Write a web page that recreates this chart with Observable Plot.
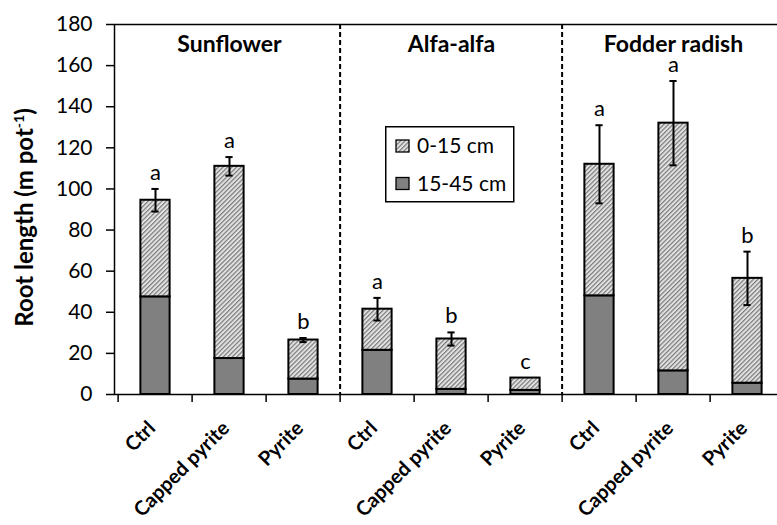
<!DOCTYPE html>
<html><head><meta charset="utf-8">
<script src="https://cdn.jsdelivr.net/npm/d3@7"></script>
<script src="https://cdn.jsdelivr.net/npm/@observablehq/plot@0.6"></script>
<style>
body{margin:0;background:#fff;font-family:Lato,sans-serif;}
#wrap{position:relative;width:777px;height:525px;overflow:hidden;background:#fff;}
#legend{position:absolute;left:385px;top:126px;}
</style></head><body><div id="wrap"></div>
<script>
// ---- data ----
const crops = ["Sunflower", "Alfa-alfa", "Fodder radish"];
const treatments = ["Ctrl", "Capped pyrite", "Pyrite"];
const totalLen = [94.5, 111, 26.5, 41.5, 27, 8, 112, 132, 56.5];   // 0-45 cm total (top of bar)
const deepLen  = [47.5, 17.5, 7.5, 21.5, 2.5, 2, 48, 11.5, 5.5];   // 15-45 cm
const errLen   = [5.5, 4.5, 1, 5.5, 3.2, 0, 19, 20.5, 13];
const letters  = ["a", "a", "b", "a", "b", "c", "a", "a", "b"];
const layers   = ["0-15 cm", "15-45 cm"];
const yTicks   = [0, 20, 40, 60, 80, 100, 120, 140, 160, 180];
const yTitle   = "Root length (m pot";
const yTitleSup = "-1";

const rows = [];
crops.forEach((c, ci) => treatments.forEach((t, ti) => {
  const i = ci * treatments.length + ti;
  rows.push({key: c + "|" + t, crop: c, treatment: t, total: totalLen[i], deep: deepLen[i], err: errLen[i], letter: letters[i]});
}));
const keys = rows.map(d => d.key);
const errRows = rows.filter(d => d.err > 0);

const W = 777, H = 525, mL = 114, mR = -10, mT = 24, mB = 131;
const step = (W - mL - mR) / keys.length;
const barW = 30, capW = 8;
const barInset = (step - barW) / 2, capInset = (step - capW) / 2;
const fills = {"0-15 cm": "url(#hatch)", "15-45 cm": "#808080"};

const chart = Plot.plot({
  width: W, height: H,
  marginLeft: mL, marginRight: mR, marginTop: mT, marginBottom: mB,
  style: {fontFamily: "Lato, sans-serif", color: "#000", background: "#fff"},
  x: {type: "band", domain: keys, padding: 0, axis: null},
  y: {domain: [0, 180]},
  marks: [
    Plot.frame({stroke: "#000", strokeWidth: 1.5}),
    Plot.ruleX(keys.filter((k, i) => i > 0 && i % treatments.length === 0), {x: d => d, dx: -step / 2, stroke: "#000", strokeWidth: 2, strokeDasharray: "5,3"}),
    Plot.ruleX(keys, {x: d => d, y1: 0, y2: 0, insetBottom: -8, dx: -step / 2, stroke: "#000", strokeWidth: 1.5}),
    Plot.barY(rows, {x: "key", y1: 0, y2: "deep", fill: fills["15-45 cm"], stroke: "#000", strokeWidth: 2, insetLeft: barInset, insetRight: barInset}),
    Plot.barY(rows, {x: "key", y1: "deep", y2: "total", fill: fills["0-15 cm"], stroke: "#000", strokeWidth: 2, insetLeft: barInset, insetRight: barInset}),
    Plot.ruleX(errRows, {x: "key", y1: d => d.total - d.err, y2: d => d.total + d.err, stroke: "#000", strokeWidth: 2}),
    Plot.tickY(errRows, {x: "key", y: d => d.total + d.err, insetLeft: capInset, insetRight: capInset, stroke: "#000", strokeWidth: 2}),
    Plot.tickY(errRows, {x: "key", y: d => d.total - d.err, insetLeft: capInset, insetRight: capInset, stroke: "#000", strokeWidth: 2}),
    Plot.text(rows, {x: "key", y: d => d.total + d.err, text: "letter", dy: -9, lineAnchor: "bottom", fontSize: 22, fill: "#000"}),
    Plot.text(crops, {x: c => c + "|" + treatments[1], frameAnchor: "top", text: d => d, dy: 27, lineAnchor: "bottom", fontWeight: "bold", fontSize: 23, fill: "#000"}),
    Plot.text(rows, {x: "key", y: () => 0, text: "treatment", rotate: () => -45, textAnchor: "end", lineAnchor: "bottom", dx: 1, dy: 35, fontWeight: "bold", fontSize: 20, fill: "#000"}),
    Plot.axisY({ticks: yTicks, tickSize: 8, tickPadding: 14, fontSize: 21, label: null, stroke: "#000", strokeWidth: 1.5, fill: "#000"}),
    Plot.text([yTitle], {frameAnchor: "left", text: d => d, rotate: -90, dx: -89, dy: 8, textAnchor: "middle", lineAnchor: "middle", fontWeight: "bold", fontSize: 24, fill: "#000"})
  ]
});

// hatch pattern
const defs = d3.select(chart).insert("defs", ":first-child");
const pat = defs.append("pattern").attr("id", "hatch").attr("patternUnits", "userSpaceOnUse")
  .attr("width", 3.2).attr("height", 3.2).attr("patternTransform", "rotate(45)");
pat.append("rect").attr("width", 3.2).attr("height", 3.2).attr("fill", "#e2e2e2");
pat.append("line").attr("x1", 0.6).attr("y1", 0).attr("x2", 0.6).attr("y2", 3.2).attr("stroke", "#7a7a7a").attr("stroke-width", 1.2);

// superscript in y title
d3.select(chart).selectAll("text").filter(function() { return this.textContent === yTitle; }).each(function() {
  const t = d3.select(this);
  t.text(null);
  t.append("tspan").text(yTitle);
  t.append("tspan").text(yTitleSup).attr("font-size", 14).attr("dy", -9);
  t.append("tspan").text(")").attr("font-size", 24).attr("dy", 9);
});

const wrap = document.getElementById("wrap");
wrap.appendChild(chart);

// legend (inside plot area)
const lg = d3.select(wrap).append("div").attr("id", "legend").append("svg")
  .attr("width", 130).attr("height", 77).style("display", "block").style("font-family", "Lato, sans-serif");
lg.append("rect").attr("x", 0.75).attr("y", 0.75).attr("width", 128).attr("height", 75).attr("fill", "#fff").attr("stroke", "#000").attr("stroke-width", 1.5);
const items = lg.selectAll("g.item").data(layers).join("g").attr("class", "item")
  .attr("transform", (d, i) => `translate(11,${14 + i * 37.5})`);
items.append("rect").attr("width", 13).attr("height", 12).attr("fill", d => fills[d]).attr("stroke", "#000").attr("stroke-width", 1.3);
items.append("text").attr("x", 21).attr("y", 13).attr("font-size", 21).attr("fill", "#000").text(d => d);
</script></body></html>
